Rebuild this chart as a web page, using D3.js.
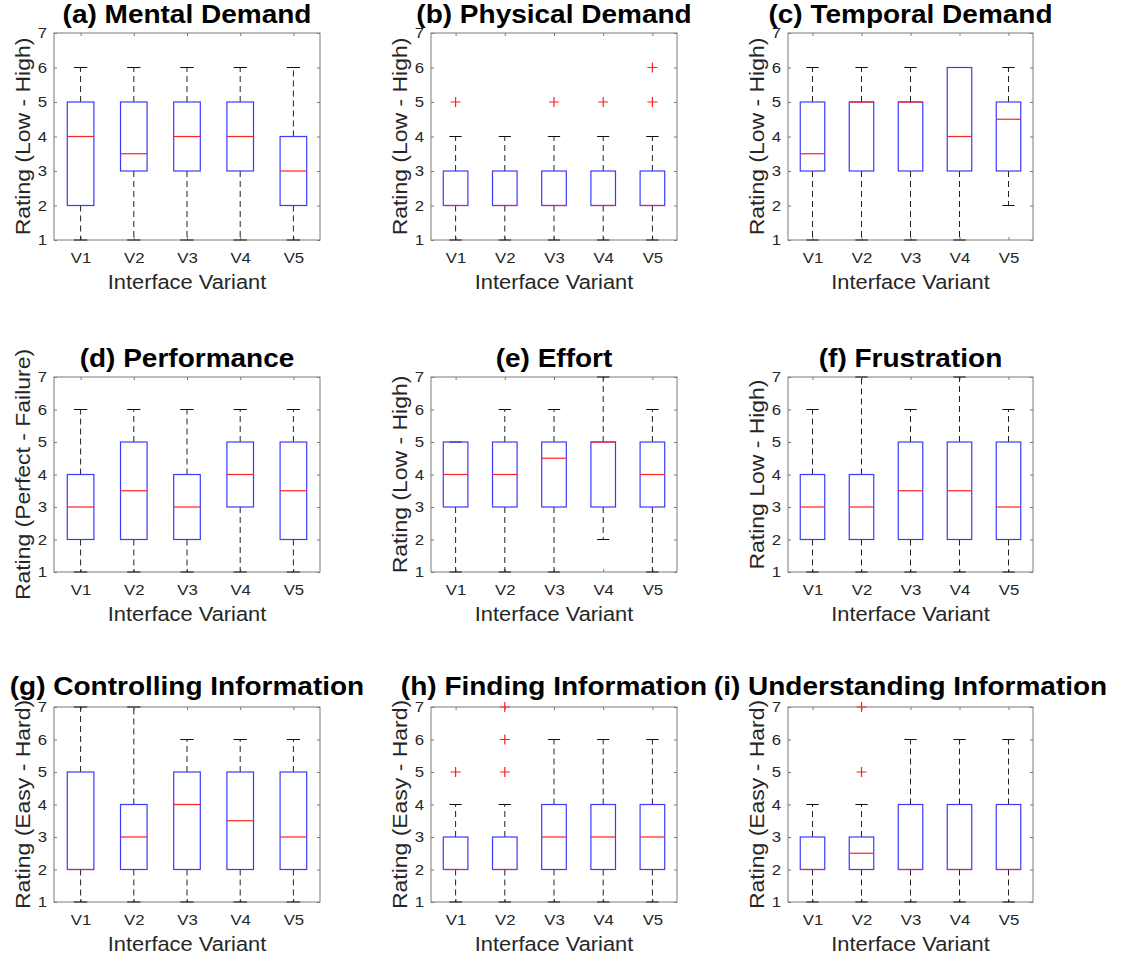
<!DOCTYPE html>
<html>
<head>
<meta charset="utf-8">
<script src="https://cdn.jsdelivr.net/npm/d3@7"></script>
<style>
  body { margin: 0; background: #fff; }
  svg { display: block; font-family: "Liberation Sans", Arial, sans-serif; }
</style>
</head>
<body>
<svg id="chart" width="1123" height="955"></svg>
<script>
// data, one entry per panel (a)..(i), one value per variant
const variants = ["V1", "V2", "V3", "V4", "V5"];
const yTicks = [1, 2, 3, 4, 5, 6, 7];
const titles = ["(a) Mental Demand", "(b) Physical Demand", "(c) Temporal Demand",
    "(d) Performance", "(e) Effort", "(f) Frustration",
    "(g) Controlling Information", "(h) Finding Information", "(i) Understanding Information"];
const yLabels = ["Rating (Low - High)", "Rating (Low - High)", "Rating (Low - High)",
    "Rating (Perfect - Failure)", "Rating (Low - High)", "Rating Low - High)",
    "Rating (Easy - Hard)", "Rating (Easy - Hard)", "Rating (Easy - Hard)"];

const whiskerLow = [
    [1, 1, 1, 1, 1], [1, 1, 1, 1, 1], [1, 1, 1, 1, 2],
    [1, 1, 1, 1, 1], [1, 1, 1, 2, 1], [1, 1, 1, 1, 1],
    [1, 1, 1, 1, 1], [1, 1, 1, 1, 1], [1, 1, 1, 1, 1]];
const q1 = [
    [2, 3, 3, 3, 2], [2, 2, 2, 2, 2], [3, 3, 3, 3, 3],
    [2, 2, 2, 3, 2], [3, 3, 3, 3, 3], [2, 2, 2, 2, 2],
    [2, 2, 2, 2, 2], [2, 2, 2, 2, 2], [2, 2, 2, 2, 2]];
const medians = [
    [4, 3.5, 4, 4, 3], [2, 2, 2, 2, 2], [3.5, 5, 5, 4, 4.5],
    [3, 3.5, 3, 4, 3.5], [4, 4, 4.5, 5, 4], [3, 3, 3.5, 3.5, 3],
    [2, 3, 4, 3.5, 3], [2, 2, 3, 3, 3], [2, 2.5, 2, 2, 2]];
const q3 = [
    [5, 5, 5, 5, 4], [3, 3, 3, 3, 3], [5, 5, 5, 6, 5],
    [4, 5, 4, 5, 5], [5, 5, 5, 5, 5], [4, 4, 5, 5, 5],
    [5, 4, 5, 5, 5], [3, 3, 4, 4, 4], [3, 3, 4, 4, 4]];
const whiskerHigh = [
    [6, 6, 6, 6, 6], [4, 4, 4, 4, 4], [6, 6, 6, 6, 6],
    [6, 6, 6, 6, 6], [5, 6, 6, 7, 6], [6, 7, 6, 7, 6],
    [7, 7, 6, 6, 6], [4, 4, 6, 6, 6], [4, 4, 6, 6, 6]];
const outliers = [
    [[], [], [], [], []], [[5], [], [5], [5], [5, 6]], [[], [], [], [], []],
    [[], [], [], [], []], [[], [], [], [], []], [[], [], [], [], []],
    [[], [], [], [], []], [[5], [5, 6, 7], [], [], []], [[], [5, 7], [], [], []]];

// layout of the 3x3 grid of axes
const colX = [[54, 320], [431, 677], [788, 1033]];
const rowY = [[33, 240], [377, 572], [707, 902]];
const titleGap = [10, 10, 12];

const svg = d3.select("#chart");
const textColor = "#262626";
const axisColor = "#7a7a7a";
const stretch = "scale(1.12,1)"; // the original figure's text is a little wide

titles.forEach((title, p) => {
    const row = Math.floor(p / 3);
    const [x0, x1] = colX[p % 3];
    const [y0, y1] = rowY[row];
    const width = x1 - x0, height = y1 - y0;
    const g = svg.append("g").attr("transform", "translate(" + x0 + "," + y0 + ")");

    const x = d3.scaleLinear().domain([0.5, 5.5]).range([0, width]);
    const y = d3.scaleLinear().domain([1, 7]).range([height, 0]);
    const boxW = (x(2) - x(1)) * 0.5;

    // axes with inward ticks on all four sides
    const tickLen = 3;
    const left = g.append("g")
        .call(d3.axisLeft(y).tickValues(yTicks).tickSize(-tickLen).tickPadding(7).tickFormat(d3.format("d")));
    g.append("g").attr("transform", "translate(" + width + ",0)")
        .call(d3.axisRight(y).tickValues(yTicks).tickSize(-tickLen).tickFormat(""));
    const bottom = g.append("g").attr("transform", "translate(0," + height + ")")
        .call(d3.axisBottom(x).tickValues([1, 2, 3, 4, 5]).tickSize(-tickLen)
            .tickPadding(12).tickFormat(d => variants[d - 1]));
    g.append("g")
        .call(d3.axisTop(x).tickValues([1, 2, 3, 4, 5]).tickSize(-tickLen).tickFormat(""));
    g.selectAll(".domain").remove();
    g.selectAll(".tick line").attr("stroke", axisColor);
    g.selectAll(".tick text").attr("fill", textColor).attr("font-size", 15)
        .attr("font-family", "'Liberation Sans', Arial, sans-serif");
    left.selectAll(".tick text").each(function() {
        const t = d3.select(this);
        t.attr("transform", "translate(" + t.attr("x") + ",0) " + stretch).attr("x", 0);
    });
    bottom.selectAll(".tick text").attr("transform", stretch);

    g.append("rect").attr("width", width).attr("height", height)
        .attr("fill", "none").attr("stroke", axisColor).attr("stroke-width", 1);

    variants.forEach((v, i) => {
        const cx = x(i + 1);
        const lo = whiskerLow[p][i], hi = whiskerHigh[p][i];
        const b0 = q1[p][i], b1 = q3[p][i];
        // dashed whiskers
        if (hi > b1) g.append("line").attr("x1", cx).attr("x2", cx)
            .attr("y1", y(b1)).attr("y2", y(hi))
            .attr("stroke", "#222").attr("stroke-dasharray", "6,4");
        if (lo < b0) g.append("line").attr("x1", cx).attr("x2", cx)
            .attr("y1", y(b0)).attr("y2", y(lo))
            .attr("stroke", "#222").attr("stroke-dasharray", "6,4");
        // caps
        [lo, hi].forEach(w => {
            g.append("line").attr("x1", cx - boxW / 4).attr("x2", cx + boxW / 4)
                .attr("y1", y(w)).attr("y2", y(w))
                .attr("stroke", "#111").attr("stroke-width", 1);
        });
        // box
        g.append("rect").attr("x", cx - boxW / 2).attr("y", y(b1))
            .attr("width", boxW).attr("height", y(b0) - y(b1))
            .attr("fill", "none").attr("stroke", "#3b3bff").attr("stroke-width", 1.2);
        // median
        g.append("line").attr("x1", cx - boxW / 2).attr("x2", cx + boxW / 2)
            .attr("y1", y(medians[p][i])).attr("y2", y(medians[p][i]))
            .attr("stroke", "#ff2020").attr("stroke-width", 1.2);
        // outliers
        outliers[p][i].forEach(o => {
            g.append("path")
                .attr("d", "M" + (cx - 5) + "," + y(o) + "h10M" + cx + "," + (y(o) - 5) + "v10")
                .attr("stroke", "#ff2020").attr("stroke-width", 1.2);
        });
    });

    g.append("g").attr("transform", "translate(" + (width / 2) + "," + (-titleGap[row]) + ") " + stretch)
        .append("text").attr("text-anchor", "middle").attr("font-size", 25).attr("font-weight", "bold")
        .attr("fill", "#000").text(title);
    g.append("g").attr("transform", "translate(" + (width / 2) + "," + (height + 49) + ") " + stretch)
        .append("text").attr("text-anchor", "middle").attr("font-size", 19.5).attr("fill", textColor)
        .text("Interface Variant");
    g.append("g").attr("transform", "translate(-24," + (height / 2) + ") rotate(-90) " + stretch)
        .append("text").attr("text-anchor", "middle").attr("font-size", 20.5).attr("fill", textColor)
        .text(yLabels[p]);
});
</script>
</body>
</html>
